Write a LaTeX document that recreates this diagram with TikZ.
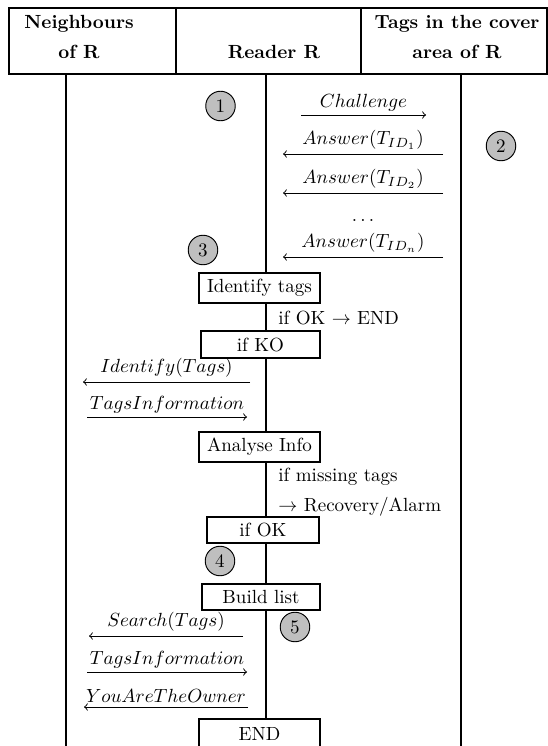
\documentclass[tikz,border=0pt]{standalone}
\usepackage{tikz}
\begin{document}
\begin{tikzpicture}[x=0.525pt,y=-0.525pt,
  life/.style={line width=1pt},
  box/.style={draw, line width=1pt, fill=white, inner sep=0pt},
  num/.style={circle, draw, line width=0.5pt, fill=black!25, minimum size=15.5pt, inner sep=0pt},
  msg/.style={line width=0.5pt, ->},
  lbl/.style={above, inner sep=2pt},
  head/.style={font=\bfseries, inner sep=0pt},
  note/.style={anchor=west, inner sep=0pt}]
\useasboundingbox (0,0) rectangle (548,746);
% header
\draw[life] (9,8) rectangle (547,74);
\draw[life] (176,8) -- (176,74);
\draw[life] (361,8) -- (361,74);
\node[head] (h1a) at (79,24) {Neighbours};
\node[head] (h1b) at (79,52) {of R};
\node[head] (h2) at (274,52) {Reader R};
\node[head] (h3a) at (457,24) {Tags in the cover};
\node[head] (h3b) at (457,52) {area of R};
% lifelines
\coordinate (nt) at (66,74);
\coordinate (nb) at (66,746);
\coordinate (rt) at (266,74);
\coordinate (tt) at (461,74);
\coordinate (tb) at (461,746);
\draw[life] (nt) -- (nb);
\draw[life] (tt) -- (tb);
% boxes
\node[box, minimum width=63.5pt, minimum height=15.75pt] (idt) at (259.5,288) {Identify tags};
\node[box, minimum width=62.5pt, minimum height=14.2pt] (ko) at (260.5,344.5) {if KO};
\node[box, minimum width=63.5pt, minimum height=15.75pt] (ana) at (259.5,447) {Analyse Info};
\node[box, minimum width=58.8pt, minimum height=13.65pt] (ok) at (263,530) {if OK};
\node[box, minimum width=62pt, minimum height=13.65pt] (bl) at (261,597) {Build list};
\node[box, minimum width=63.5pt, minimum height=15.75pt] (end) at (259.5,734) {END};
\draw[life] (rt) -- (rt |- idt.north);
\draw[life] (rt |- idt.south) -- (rt |- ko.north);
\draw[life] (rt |- ko.south) -- (rt |- ana.north);
\draw[life] (rt |- ana.south) -- (rt |- ok.north);
\draw[life] (rt |- ok.south) -- (rt |- bl.north);
\draw[life] (rt |- bl.south) -- (rt |- end.north);
% numbered circles
\node[num] (n1) at (220.5,106) {1};
\node[num] (n2) at (501,146) {2};
\node[num] (n3) at (203,250) {3};
\node[num] (n4) at (220,561) {4};
\node[num] (n5) at (295,627) {5};
% messages between reader and tags
\coordinate (c1a) at (301,115); \coordinate (c1b) at (426,115);
\draw[msg] (c1a) -- node[lbl] (l1) {$Challenge$} (c1b);
\coordinate (a1a) at (443,154); \coordinate (a1b) at (283,154);
\draw[msg] (a1a) -- node[lbl] (l2) {$Answer(T_{ID_1})$} (a1b);
\coordinate (a2a) at (443,193); \coordinate (a2b) at (283,193);
\draw[msg] (a2a) -- node[lbl] (l3) {$Answer(T_{ID_2})$} (a2b);
\node (dots) at (363,220) {$\dots$};
\coordinate (ana1) at (443,257); \coordinate (anb) at (283,257);
\draw[msg] (ana1) -- node[lbl] (l4) {$Answer(T_{ID_n})$} (anb);
% notes
\node[note] (t1) at (278,318) {if OK $\rightarrow$ END};
\node[note] (t2) at (278,477) {if missing tags};
\node[note] (t3) at (278,507) {$\rightarrow$ Recovery/Alarm};
% messages between reader and neighbours
\coordinate (i1a) at (250,382); \coordinate (i1b) at (83,382);
\draw[msg] (i1a) -- node[lbl] (l5) {$Identify(Tags)$} (i1b);
\coordinate (t1a) at (87,417); \coordinate (t1b) at (247,417);
\draw[msg] (t1a) -- node[lbl] (l6) {$TagsInformation$} (t1b);
\coordinate (s1a) at (243,636); \coordinate (s1b) at (89,636);
\draw[msg] (s1a) -- node[lbl] (l7) {$Search(Tags)$} (s1b);
\coordinate (t2a) at (87,672); \coordinate (t2b) at (247,672);
\draw[msg] (t2a) -- node[lbl] (l8) {$TagsInformation$} (t2b);
\coordinate (y1a) at (248,707); \coordinate (y1b) at (84,707);
\draw[msg] (y1a) -- node[lbl] (l9) {$YouAreTheOwner$} (y1b);
\end{tikzpicture}
\end{document}
